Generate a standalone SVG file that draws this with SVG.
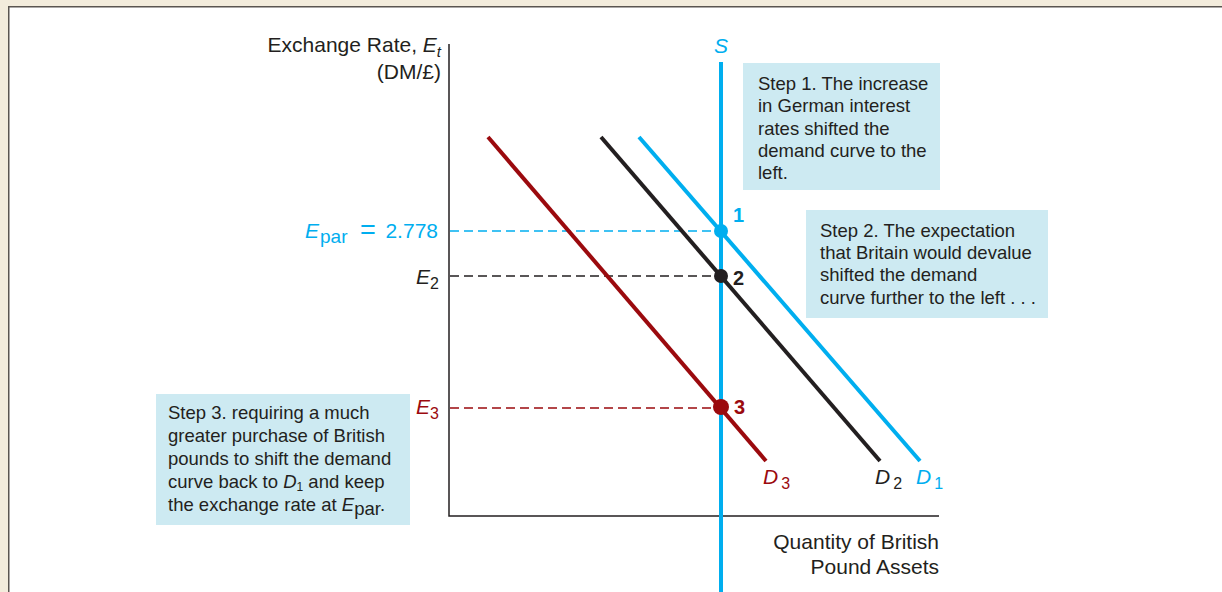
<svg xmlns="http://www.w3.org/2000/svg" width="1222" height="592" viewBox="0 0 1222 592">
<style>
text{font-family:"Liberation Sans",Arial,sans-serif;fill:#231f20}
.lbl{font-size:21px}
.box{font-size:18.5px}
.note{fill:#cdeaf2}
.cy{fill:#00aeef}
.rd{fill:#9b0a0e}
.it{font-style:italic}
.num{font-size:20px;font-weight:bold}
.dash{stroke-width:1.3;stroke-dasharray:9 5;fill:none}
.curve{stroke-width:4;fill:none}
</style>
<rect x="0" y="0" width="1222" height="592" fill="#f3ecdc"/>
<rect x="8" y="6" width="1214" height="586" fill="#ffffff"/>
<path d="M8.75,592 V6.75 H1222" fill="none" stroke="#5a5550" stroke-width="1.5"/>

<g id="axes">
<path d="M449,44 V516 H939" fill="none" stroke="#231f20" stroke-width="1.5"/>
<text class="lbl" x="441" y="52" text-anchor="end">Exchange Rate, <tspan class="it">E</tspan><tspan class="it" font-size="15" dy="5">t</tspan></text>
<text class="lbl" x="441" y="79" text-anchor="end">(DM/£)</text>
<text class="lbl" x="939" y="549" text-anchor="end">Quantity of British</text>
<text class="lbl" x="939" y="574" text-anchor="end">Pound Assets</text>
</g>

<g id="connectors">
<line class="dash" x1="450" y1="231" x2="721" y2="231" stroke="#00aeef"/>
<line class="dash" x1="450" y1="276" x2="721" y2="276" stroke="#231f20"/>
<line class="dash" x1="450" y1="408" x2="721" y2="408" stroke="#9b0a0e"/>
<line class="curve" x1="721" y1="62" x2="721" y2="592" stroke="#00aeef"/>
<line class="curve" x1="488" y1="137" x2="766" y2="461" stroke="#9b0a0e"/>
<line class="curve" x1="601" y1="137" x2="880" y2="461" stroke="#231f20"/>
<line class="curve" x1="639" y1="137" x2="920" y2="461" stroke="#00aeef"/>
</g>

<g id="supply-label"><text class="lbl it cy" x="721" y="53" text-anchor="middle">S</text></g>

<g id="point1"><circle cx="721" cy="231" r="7" fill="#00aeef"/><text class="num cy" x="733" y="222">1</text></g>
<g id="point2"><circle cx="721" cy="276" r="7" fill="#231f20"/><text class="num" x="733" y="285">2</text></g>
<g id="point3"><circle cx="721" cy="407" r="8" fill="#9b0a0e"/><text class="num rd" x="734" y="414">3</text></g>

<g id="y-labels">
<text class="lbl cy" x="305" y="238"><tspan class="it">E</tspan><tspan font-size="19" dx="1" dy="5">par</tspan></text>
<text class="cy" x="360" y="239" style="font-size:27px">=</text>
<text class="lbl cy" x="438" y="238" text-anchor="end">2.778</text>
<text class="lbl" x="416" y="284"><tspan class="it">E</tspan><tspan font-size="16" dy="5">2</tspan></text>
<text class="lbl rd" x="416" y="414"><tspan class="it">E</tspan><tspan font-size="16" dy="5">3</tspan></text>
</g>

<g id="curve-labels">
<text class="lbl rd" x="763" y="484"><tspan class="it">D</tspan><tspan font-size="16" dx="3" dy="5">3</tspan></text>
<text class="lbl" x="875" y="484"><tspan class="it">D</tspan><tspan font-size="16" dx="3" dy="5">2</tspan></text>
<text class="lbl cy" x="916" y="484"><tspan class="it">D</tspan><tspan font-size="16" dx="3" dy="5">1</tspan></text>
</g>

<g id="step1">
<rect class="note" x="743" y="63" width="197" height="127"/>
<text class="box" x="758" y="90">Step 1. The increase</text>
<text class="box" x="758" y="112">in German interest</text>
<text class="box" x="758" y="135">rates shifted the</text>
<text class="box" x="758" y="157">demand curve to the</text>
<text class="box" x="758" y="179">left.</text>
</g>

<g id="step2">
<rect class="note" x="806" y="210" width="242" height="108"/>
<text class="box" x="820" y="237">Step 2. The expectation</text>
<text class="box" x="820" y="259">that Britain would devalue</text>
<text class="box" x="820" y="281">shifted the demand</text>
<text class="box" x="820" y="304">curve further to the left . . .</text>
</g>

<g id="step3">
<rect class="note" x="156" y="394" width="254" height="131"/>
<text class="box" x="168" y="419">Step 3. requiring a much</text>
<text class="box" x="168" y="442">greater purchase of British</text>
<text class="box" x="168" y="465">pounds to shift the demand</text>
<text class="box" x="168" y="488">curve back to <tspan class="it">D</tspan><tspan font-size="12" dy="3">1</tspan><tspan dy="-3"> and keep</tspan></text>
<text class="box" x="168" y="511">the exchange rate at <tspan class="it">E</tspan><tspan dy="4">par</tspan><tspan dy="-4">.</tspan></text>
</g>
</svg>
